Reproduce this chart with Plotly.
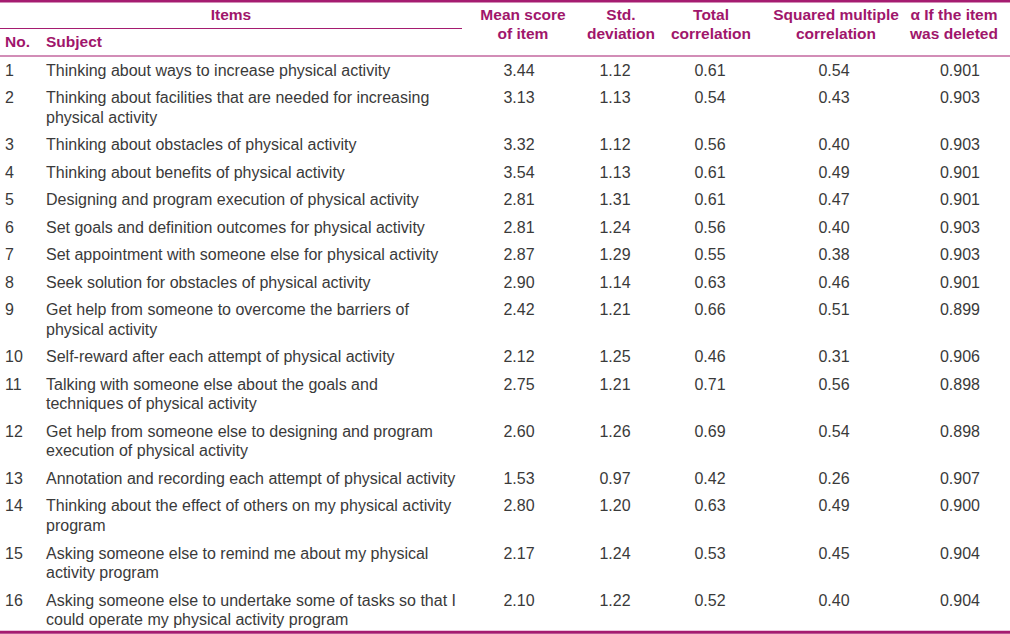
import plotly.graph_objects as go

# ---------------- data ----------------
item_no = list(range(1, 17))
subjects = [
    "Thinking about ways to increase physical activity",
    "Thinking about facilities that are needed for increasing\nphysical activity",
    "Thinking about obstacles of physical activity",
    "Thinking about benefits of physical activity",
    "Designing and program execution of physical activity",
    "Set goals and definition outcomes for physical activity",
    "Set appointment with someone else for physical activity",
    "Seek solution for obstacles of physical activity",
    "Get help from someone to overcome the barriers of\nphysical activity",
    "Self-reward after each attempt of physical activity",
    "Talking with someone else about the goals and\ntechniques of physical activity",
    "Get help from someone else to designing and program\nexecution of physical activity",
    "Annotation and recording each attempt of physical activity",
    "Thinking about the effect of others on my physical activity\nprogram",
    "Asking someone else to remind me about my physical\nactivity program",
    "Asking someone else to undertake some of tasks so that I\ncould operate my physical activity program",
]
mean_score = [3.44, 3.13, 3.32, 3.54, 2.81, 2.81, 2.87, 2.90, 2.42, 2.12, 2.75, 2.60, 1.53, 2.80, 2.17, 2.10]
std_dev = [1.12, 1.13, 1.12, 1.13, 1.31, 1.24, 1.29, 1.14, 1.21, 1.25, 1.21, 1.26, 0.97, 1.20, 1.24, 1.22]
total_corr = [0.61, 0.54, 0.56, 0.61, 0.61, 0.56, 0.55, 0.63, 0.66, 0.46, 0.71, 0.69, 0.42, 0.63, 0.53, 0.52]
sq_mult_corr = [0.54, 0.43, 0.40, 0.49, 0.47, 0.40, 0.38, 0.46, 0.51, 0.31, 0.56, 0.54, 0.26, 0.49, 0.45, 0.40]
alpha_deleted = [0.901, 0.903, 0.903, 0.901, 0.901, 0.903, 0.903, 0.901, 0.899, 0.906, 0.898, 0.898, 0.907, 0.900, 0.904, 0.904]

group_header = "Items"
col_headers = ["No.", "Subject", "Mean score\nof item", "Std.\ndeviation", "Total\ncorrelation",
               "Squared multiple\ncorrelation", "\u03b1 If the item\nwas deleted"]

# ---------------- layout / style ----------------
W, H = 1010, 634
MAG = "#A0166B"
LINE = "#A51C70"
BODY = "#3a3a3a"
FONT = "Liberation Sans, Arial, sans-serif"
BODY_SIZE = 16
HEAD_SIZE = 15.5

x_no, x_subj = 5, 46
value_cols = [519, 615, 710, 834, 960]
head_cols = [523, 621, 711, 836, 954]

y_first = 71.5
row_pitch = 27.5
wrap_pitch = 19.6
head_y = 16
head_pitch = 19.3

# compute row y positions
row_y = []
y = y_first
for s in subjects:
    row_y.append(y)
    n_lines = len(s.split("\n"))
    y += row_pitch + wrap_pitch * (n_lines - 1)

fig = go.Figure()

def text_trace(xs, ys, texts, pos, color, size, bold=False):
    if bold:
        texts = ["<b>%s</b>" % t for t in texts]
    fig.add_trace(go.Scatter(
        x=xs, y=ys, text=texts, mode="text", textposition=pos,
        textfont=dict(family=FONT, size=size, color=color),
        hoverinfo="skip", showlegend=False, cliponaxis=False))

# item numbers
text_trace([x_no] * len(item_no), row_y, [str(n) for n in item_no], "middle right", BODY, BODY_SIZE)

# subjects (each line placed separately)
sx, sy, st = [], [], []
for s, yy in zip(subjects, row_y):
    for k, line in enumerate(s.split("\n")):
        sx.append(x_subj)
        sy.append(yy + k * wrap_pitch)
        st.append(line)
text_trace(sx, sy, st, "middle right", BODY, BODY_SIZE)

# numeric columns
fmts = ["%.2f", "%.2f", "%.2f", "%.2f", "%.3f"]
for cx, vals, f in zip(value_cols, [mean_score, std_dev, total_corr, sq_mult_corr, alpha_deleted], fmts):
    text_trace([cx] * len(vals), row_y, [f % v for v in vals], "middle center", BODY, BODY_SIZE)

# headers
text_trace([231], [head_y], [group_header], "middle center", MAG, HEAD_SIZE, bold=True)
text_trace([x_no, x_subj], [43, 43], col_headers[:2], "middle right", MAG, HEAD_SIZE, bold=True)
hx, hy, ht = [], [], []
for cx, h in zip(head_cols, col_headers[2:]):
    for k, line in enumerate(h.split("\n")):
        hx.append(cx)
        hy.append(head_y + k * head_pitch)
        ht.append(line)
text_trace(hx, hy, ht, "middle center", MAG, HEAD_SIZE, bold=True)

# rules
shapes = [
    dict(type="line", x0=0, x1=W, y0=1.2, y1=1.2, line=dict(color=LINE, width=2.5)),
    dict(type="line", x0=0, x1=462, y0=28.5, y1=28.5, line=dict(color=LINE, width=1.2)),
    dict(type="line", x0=0, x1=W, y0=56, y1=56, line=dict(color=LINE, width=1.2)),
    dict(type="line", x0=0, x1=W, y0=632.3, y1=632.3, line=dict(color=LINE, width=3)),
]
for s in shapes:
    s.update(xref="x", yref="y", layer="above")

fig.update_layout(
    width=W, height=H,
    margin=dict(l=0, r=0, t=0, b=0),
    paper_bgcolor="white", plot_bgcolor="white",
    xaxis=dict(range=[0, W], visible=False, fixedrange=True),
    yaxis=dict(range=[H, 0], visible=False, fixedrange=True),
    shapes=shapes,
)

fig.write_html(
    "out.html",
    config={"displayModeBar": False},
    post_script="document.body.style.margin='0';document.body.style.overflow='hidden';",
)
